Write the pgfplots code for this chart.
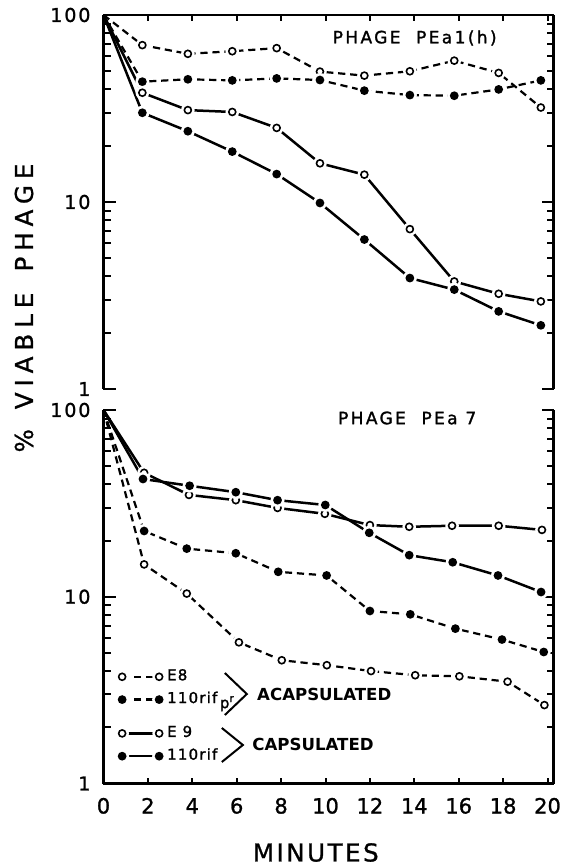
\documentclass[border=0pt]{standalone}
\usepackage{fontspec}
\setmainfont{DejaVu Sans}
\newfontfamily\ytfam[LetterSpace=10, FakeBold=1.2]{DejaVu Sans}
\newfontfamily\xtfam[FakeBold=1.2]{DejaVu Sans}
\newfontfamily\titfam[LetterSpace=14, FakeBold=1.5]{DejaVu Sans}
\newfontfamily\labfam[LetterSpace=24, FakeBold=1]{DejaVu Sans}
\newfontfamily\minfam[LetterSpace=10, FakeBold=1]{DejaVu Sans}
\newfontfamily\legfam[LetterSpace=8, FakeBold=1.5]{DejaVu Sans}
\newfontfamily\grpfam{DejaVu Sans}
\usepackage{pgfplots}
\pgfplotsset{compat=1.18}
\pgfkeys{/pgf/number format/assume math mode=true}

\pgfdeclareplotmark{ocirc}{%
  \begin{pgfscope}%
  \pgfsetdash{}{0pt}%
  \pgfpathcircle{\pgfpointorigin}{3.4pt}%
  \pgfsetfillcolor{white}\pgfusepathqfill
  \pgfpathcircle{\pgfpointorigin}{1.75pt}%
  \pgfsetlinewidth{0.8pt}\pgfsetstrokecolor{black}\pgfusepathqstroke
  \end{pgfscope}}
\pgfdeclareplotmark{fcirc}{%
  \begin{pgfscope}%
  \pgfsetdash{}{0pt}%
  \pgfpathcircle{\pgfpointorigin}{3.5pt}%
  \pgfsetfillcolor{white}\pgfusepathqfill
  \pgfpathcircle{\pgfpointorigin}{2.2pt}%
  \pgfsetfillcolor{black}\pgfusepathqfill
  \end{pgfscope}}

\begin{document}
\begin{tikzpicture}
\begin{axis}[name=top, scale only axis, width=225pt, height=187pt,
    xmin=0, xmax=20.27, ymode=log, ymin=1, ymax=100,
    ytick={1,10,100}, minor ytick={2,3,4,5,6,7,8,9,20,30,40,50,60,70,80,90},
    log ticks with fixed point,
    xtick={0,2,...,20}, xticklabels={},
    axis x line*=top, axis y line*=box,
    axis line style={-, line width=1.1pt},
    tick align=inside,
    major tick length=6pt, minor tick length=3.5pt,
    tick style={black, line width=1pt},
    xtick style={/pgfplots/major tick length=3pt},
    yticklabel style={font=\ytfam\fontsize{9.5}{10}\selectfont, anchor=east, xshift=-3pt},
    clip=false]
\addplot[black, line width=1.1pt, dash pattern=on 3.6pt off 2.4pt, mark=ocirc, mark phase=2] coordinates {(0,100) (1.75,69) (3.8,62) (5.8,64) (7.8,66.5) (9.75,49.8) (11.75,47.4) (13.8,50) (15.8,57) (17.8,49) (19.7,32)};
\addplot[black, line width=1.1pt, dash pattern=on 3.6pt off 2.4pt, mark=fcirc, mark phase=2] coordinates {(0,100) (1.75,44) (3.8,45.3) (5.8,44.7) (7.8,45.8) (9.75,44.9) (11.75,39.4) (13.8,37.3) (15.8,37) (17.8,40) (19.7,44.7)};
\addplot[black, line width=1.25pt, mark=ocirc, mark phase=2] coordinates {(0,100) (1.75,38.4) (3.8,31) (5.8,30.3) (7.8,24.9) (9.75,16.1) (11.75,14) (13.8,7.16) (15.8,3.76) (17.8,3.23) (19.7,2.94)};
\addplot[black, line width=1.25pt, mark=fcirc, mark phase=2] coordinates {(0,100) (1.75,30) (3.8,23.9) (5.8,18.6) (7.8,14.1) (9.75,9.88) (11.75,6.3) (13.8,3.92) (15.8,3.4) (17.8,2.6) (19.7,2.19)};
\node[font=\titfam\fontsize{8.5}{9}\selectfont, inner sep=0pt] at (rel axis cs:0.6915,0.9385) {PHAGE\ \ PEa1(h)};
\end{axis}

\begin{axis}[name=bot, scale only axis, width=225pt, height=186.75pt,
    at={(top.south west)}, anchor=north west, yshift=-10.5pt,
    xmin=0, xmax=20.27, ymode=log, ymin=1, ymax=100,
    ytick={1,10,100}, minor ytick={2,3,4,5,6,7,8,9,20,30,40,50,60,70,80,90},
    log ticks with fixed point,
    xtick={0,2,...,20},
    axis x line*=bottom, axis y line*=box,
    axis line style={-, line width=1.1pt},
    tick align=inside,
    major tick length=6pt, minor tick length=3.5pt,
    tick style={black, line width=1pt},
    xtick style={/pgfplots/major tick length=3pt},
    yticklabel style={font=\ytfam\fontsize{9.5}{10}\selectfont, anchor=east, xshift=-3pt},
    xticklabel style={font=\xtfam\fontsize{10.5}{11}\selectfont, anchor=base, yshift=-15pt},
    clip=false,
    legend style={at={(rel axis cs:0.025,0.305)}, anchor=north west, draw=none, fill=none, inner sep=0pt,
      font=\legfam\fontsize{7.5}{8}\selectfont, row sep=4.5pt, column sep=0pt,
      nodes={inner sep=0.5pt, text height=4.5pt, text depth=1pt, anchor=west}},
    legend cell align=left,
    legend image code/.code={\draw[#1, mark repeat=1, mark phase=1] plot coordinates {(0pt,0pt) (18.5pt,0pt)};},
]
\addplot[black, line width=1.1pt, dash pattern=on 3.6pt off 2.4pt, mark=ocirc, mark phase=2] coordinates {(0,100) (1.83,14.9) (3.75,10.4) (6.1,5.7) (8.03,4.57) (10.06,4.3) (12.05,4.0) (14.04,3.8) (16.03,3.75) (18.2,3.51) (19.86,2.63)};
\addlegendentry{E8}
\addplot[black, line width=1.1pt, dash pattern=on 3.6pt off 2.4pt, mark=fcirc, mark phase=2] coordinates {(0,100) (1.83,22.5) (3.75,18.1) (5.96,17.1) (7.87,13.6) (10.05,13) (12.0,8.39) (13.82,8.05) (15.85,6.75) (17.95,5.9) (19.83,5.06)};
\addlegendentry{110rif\,\raisebox{-2.5pt}{p\textsuperscript{r}}}
\addlegendimage{empty legend}
\addlegendentry[text height=0pt, text depth=0pt, inner sep=0pt]{}
\addplot[black, line width=1.25pt, mark=ocirc, mark phase=2] coordinates {(0,100) (1.83,46.1) (3.85,35.1) (5.96,32.9) (7.84,29.9) (9.97,27.8) (12.0,24.2) (13.77,23.7) (15.7,24) (17.8,24) (19.75,22.8)};
\addlegendentry{E 9}
\addplot[black, line width=1.25pt, mark=fcirc, mark phase=2] coordinates {(0,100) (1.78,42.7) (3.88,39.3) (5.96,36.3) (7.84,32.9) (9.99,31) (11.97,22) (13.77,16.7) (15.73,15.3) (17.77,13) (19.71,10.6)};
\addlegendentry{110rif}
\node[font=\titfam\fontsize{8.5}{9}\selectfont, inner sep=0pt] at (rel axis cs:0.6748,0.9786) {PHAGE\ \ PEa 7};
\draw[line width=1pt] (rel axis cs:0.2697,0.2958) -- (rel axis cs:0.3185,0.2396) -- (rel axis cs:0.2697,0.1834);
\draw[line width=1pt] (rel axis cs:0.263,0.1486) -- (rel axis cs:0.3097,0.1031) -- (rel axis cs:0.263,0.0576);
\node[anchor=west, inner sep=0pt, font=\grpfam\bfseries\fontsize{8.3}{10}\selectfont] at (rel axis cs:0.3407,0.2396) {ACAPSULATED};
\node[anchor=west, inner sep=0pt, font=\grpfam\bfseries\fontsize{8.3}{10}\selectfont] at (rel axis cs:0.3301,0.1058) {CAPSULATED};
\node[font=\minfam\fontsize{12.3}{14}\selectfont, inner sep=0pt] at ([yshift=-34.5pt]rel axis cs:0.4717,0) {MINUTES};
\end{axis}

\node[rotate=90, inner sep=0pt, font=\labfam\fontsize{12.3}{14}\selectfont] at ([xshift=-39.75pt,yshift=-146.5pt]top.north west) {\%\hspace{0.25em} VIABLE\hspace{0.3em} PHAGE};

\pgfresetboundingbox
\path[use as bounding box] ([xshift=-51.75pt,yshift=7.5pt]top.north west) rectangle ([xshift=6.5pt,yshift=-40.75pt]bot.south east);
\end{tikzpicture}
\end{document}
